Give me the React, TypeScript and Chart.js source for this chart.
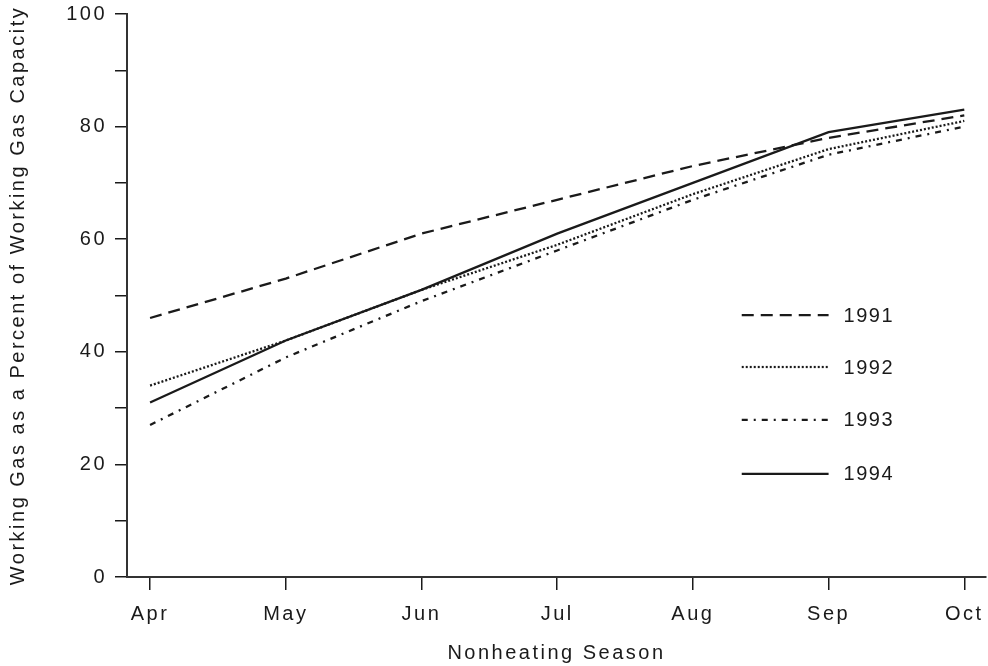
import React, { useEffect, useRef } from "react";
import { Chart, registerables } from "chart.js";

Chart.register(...registerables);

const months = ["Apr", "May", "Jun", "Jul", "Aug", "Sep", "Oct"];
const years = ["1991", "1992", "1993", "1994"];
const s1991 = [46, 53, 61, 67, 73, 78, 82];
const s1992 = [34, 42, 51, 59, 68, 76, 81];
const s1993 = [27, 39, 49, 58, 67, 75, 80];
const s1994 = [31, 42, 51, 61, 70, 79, 83];
const dashes = [[12, 7], [2, 2], [6, 6, 2, 6], []];

const FONT = "'Liberation Sans', Arial, sans-serif";
const INK = "#1a1a1a";
const FS = 20;
const LS = "2.5px";

const spacingPlugin = {
  id: "spacing",
  beforeDraw(chart: any) {
    (chart.ctx as any).letterSpacing = LS;
  },
  afterDraw(chart: any) {
    (chart.ctx as any).letterSpacing = "0px";
  },
};

const legendPlugin = {
  id: "innerLegend",
  afterDatasetsDraw(chart: any) {
    const ctx = chart.ctx;
    const xs = chart.scales.x;
    const ys = chart.scales.y;
    const x0 = xs.getPixelForValue(4.36);
    const x1 = xs.getPixelForValue(5.0);
    const rowsY = [46.5, 37.3, 27.9, 18.3];
    chart.data.datasets.forEach((ds: any, i: number) => {
      const y = ys.getPixelForValue(rowsY[i]);
      ctx.save();
      ctx.strokeStyle = INK;
      ctx.lineWidth = 2.2;
      ctx.setLineDash(ds.borderDash || []);
      ctx.beginPath();
      ctx.moveTo(x0, y);
      ctx.lineTo(x1, y);
      ctx.stroke();
      ctx.setLineDash([]);
      ctx.fillStyle = INK;
      ctx.font = `${FS}px ${FONT}`;
      (ctx as any).letterSpacing = "1.5px";
      ctx.textBaseline = "middle";
      ctx.textAlign = "left";
      ctx.fillText(ds.label, x1 + 15, y + 1);
      ctx.restore();
    });
  },
};

export default function App() {
  const ref = useRef<HTMLCanvasElement>(null);
  useEffect(() => {
    const series = [s1991, s1992, s1993, s1994];
    const chart = new Chart(ref.current!, {
      type: "line",
      data: {
        datasets: years.map((y, i) => ({
          label: y,
          data: series[i].map((v, j) => ({ x: j, y: v })),
          borderColor: INK,
          borderWidth: 2.3,
          borderDash: dashes[i],
          pointRadius: 0,
          fill: false,
          tension: 0,
        })),
      },
      options: {
        animation: false,
        responsive: false,
        maintainAspectRatio: false,
        layout: { padding: { top: 14, right: 2, left: 0, bottom: 0 } },
        plugins: { legend: { display: false }, tooltip: { enabled: false } },
        scales: {
          x: {
            type: "linear",
            min: -0.17,
            max: 6.16,
            afterBuildTicks: (scale: any) => {
              scale.ticks = months.map((_, i) => ({ value: i }));
            },
            afterFit: (scale: any) => {
              scale.height = 89;
              scale.paddingLeft = 0;
              scale.paddingRight = 0;
            },
            ticks: {
              callback: (v: any) => months[v as number] ?? "",
              color: INK,
              font: { family: FONT, size: FS },
              padding: 12,
              maxRotation: 0,
              autoSkip: false,
            },
            grid: {
              drawOnChartArea: false,
              drawTicks: true,
              tickLength: 13,
              color: INK,
              lineWidth: 1.5,
            },
            border: { color: "#333", width: 2 },
            title: {
              display: true,
              text: "Nonheating Season",
              color: INK,
              font: { family: FONT, size: FS },
              padding: { top: 4, bottom: 1 },
            },
          },
          y: {
            min: 0,
            max: 100,
            afterFit: (scale: any) => {
              scale.width = 127;
              scale.paddingTop = 0;
              scale.paddingBottom = 0;
            },
            ticks: {
              stepSize: 10,
              callback: (v: any) => ((v as number) % 20 === 0 ? String(v) : ""),
              color: INK,
              font: { family: FONT, size: FS },
              padding: 8,
              autoSkip: false,
            },
            grid: {
              drawOnChartArea: false,
              drawTicks: true,
              tickLength: 12,
              color: INK,
              lineWidth: 1.5,
            },
            border: { color: "#333", width: 2 },
            title: {
              display: true,
              text: "Working Gas as a Percent of Working Gas Capacity",
              color: INK,
              font: { family: FONT, size: FS },
              padding: { top: 6, bottom: 0 },
            },
          },
        },
      },
      plugins: [spacingPlugin, legendPlugin],
    });
    return () => chart.destroy();
  }, []);
  return (
    <div style={{ position: "fixed", left: 0, top: 0, width: 988, height: 666, background: "#fff" }}>
      <canvas ref={ref} width={988} height={666} style={{ width: 988, height: 666 }} />
    </div>
  );
}
